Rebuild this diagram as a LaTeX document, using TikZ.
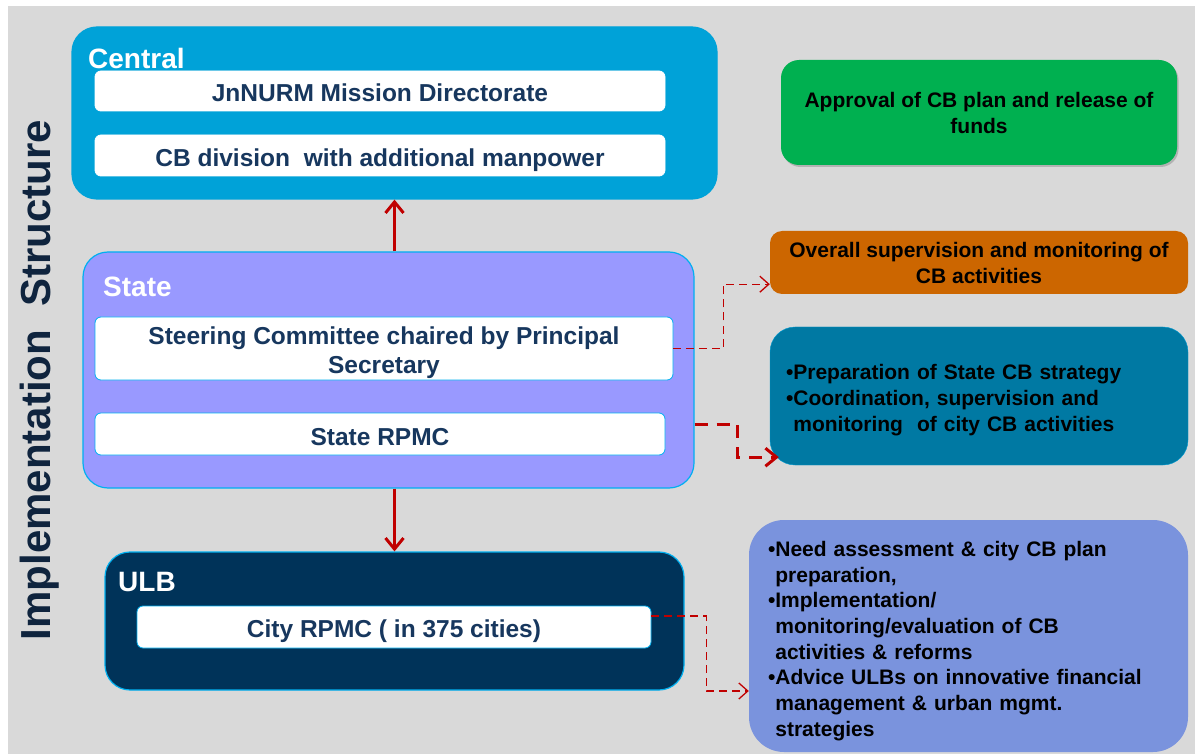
\documentclass[tikz,border=0pt]{standalone}
\usepackage{fontspec}
\setmainfont{Liberation Sans}
\usetikzlibrary{arrows.meta,shadows}

\definecolor{bggray}{RGB}{217,217,217}
\definecolor{centralblue}{RGB}{0,162,216}
\definecolor{statelilac}{RGB}{153,153,255}
\definecolor{ulbnavy}{RGB}{0,51,89}
\definecolor{edgeblue}{RGB}{0,176,240}
\definecolor{navytext}{RGB}{23,55,94}
\definecolor{titlenavy}{RGB}{15,36,62}
\definecolor{darkred}{RGB}{192,0,0}
\definecolor{taskgreen}{RGB}{0,176,80}
\definecolor{taskorange}{RGB}{204,102,0}
\definecolor{taskteal}{RGB}{0,121,163}
\definecolor{taskblue}{RGB}{122,147,221}

\newcommand{\bul}{\textbullet}
\newcommand{\nobul}{\hphantom{\textbullet}}
\newcommand{\lowerstrut}[1]{\rule{0pt}{#1}}

\tikzset{levelbox/.style={
			  rectangle,
			  rounded corners = 25pt,
			  inner sep       = 0pt,
			  line width      = 1.2pt,
			  draw            = edgeblue
			}}
\tikzset{levellabel/.style={
			  anchor          = west,
			  inner sep       = 0pt,
			  text            = white,
			  font            = \fontsize{28}{32}\selectfont\bfseries
			}}
\tikzset{unitbox/.style={
			  rectangle,
			  rounded corners = 6pt,
			  inner sep       = 0pt,
			  line width      = 0.8pt,
			  draw            = edgeblue,
			  fill            = white,
			  text            = navytext,
			  align           = center,
			  font            = \fontsize{24.5}{29}\selectfont\bfseries
			}}
\tikzset{taskbox/.style={
			  rectangle,
			  inner sep       = 0pt,
			  text            = black,
			  font            = \fontsize{21}{26}\selectfont\bfseries
			}}
\tikzset{link/.style={
			  draw            = darkred,
			  line width      = 1.3pt,
			  dash pattern    = on 8pt off 5pt
			}}
\tikzset{bigtip/.style={
			  -{Straight Barb[length=11pt,width=18pt,line width=3pt]}
			}}

\begin{document}
\begin{tikzpicture}[x=1pt, y=-1pt, >={Straight Barb[length=9pt,width=16pt,line width=1.3pt]}]

    \useasboundingbox (0,0) rectangle (1195,754);
    \fill [bggray] (8,6) rectangle (1195,754);

    \node (title) [rotate=90, anchor=base, inner sep=0pt, text=titlenavy,
                   font=\fontsize{42}{48}\selectfont\bfseries] at (50,380) {Implementation~~Structure};

    % levels
    \node (central) [levelbox, fill=centralblue, draw=centralblue, minimum width=645pt, minimum height=172pt] at (394.5,113) {};
    \node (state)   [levelbox, fill=statelilac, minimum width=611pt, minimum height=236pt] at (388.5,370) {};
    \node (ulb)     [levelbox, fill=ulbnavy, minimum width=579pt, minimum height=138pt] at (394.5,621) {};

    \node (central_lbl) [levellabel] at (88,58)  {Central};
    \node (state_lbl)   [levellabel] at (103,287) {State};
    \node (ulb_lbl)     [levellabel] at (118,582) {ULB};

    \node (jnnurm) [unitbox, draw=white, text height=22pt, text depth=0pt,
                    minimum width=570pt, minimum height=40pt] at (380,91)    {JnNURM Mission Directorate};
    \node (cbdiv)  [unitbox, draw=white, text height=22pt, text depth=0pt,
                    minimum width=570pt, minimum height=41pt] at (380,155.5) {CB division\ \ with additional manpower};
    \node (steer)  [unitbox, minimum width=578pt, minimum height=63pt] at (384,348.5)
                   {\lowerstrut{26pt}Steering Committee chaired by Principal\\Secretary};
    \node (srpmc)  [unitbox, text height=23pt, text depth=0pt,
                    minimum width=570pt, minimum height=42pt] at (380,434)   {State RPMC};
    \node (crpmc)  [unitbox, text height=20pt, text depth=0pt,
                    minimum width=514pt, minimum height=42pt] at (394,627)   {City RPMC ( in 375 cities)};

    % tasks
    \node (approval) [taskbox, fill=taskgreen, rounded corners=18pt, align=center,
                      drop shadow={shadow xshift=1.5pt, shadow yshift=-2pt, fill=black!45},
                      minimum width=396pt, minimum height=105pt] at (979,112.5)
                      {Approval of CB plan and release of\\funds};
    \node (oversee)  [taskbox, fill=taskorange, rounded corners=12pt, align=center,
                      minimum width=418pt, minimum height=63pt] at (979,262.5)
                      {\lowerstrut{17pt}Overall supervision and monitoring of\\CB activities};
    \node (strategy) [taskbox, fill=taskteal, draw=edgeblue!60!taskteal, rounded corners=25pt, align=left,
                      text width=386pt, inner xsep=16pt,
                      minimum width=418pt, minimum height=138pt] at (979,396)
                      {\lowerstrut{23pt}\bul Preparation of State CB strategy\\
                       \bul Coordination, supervision and\\
                       \nobul monitoring\ \ of city CB activities};
    \node (cityplan) [taskbox, fill=taskblue, rounded corners=35pt, align=left,
                      text width=401pt, inner xsep=19pt,
                      font=\fontsize{21}{25.7}\selectfont\bfseries,
                      minimum width=439pt, minimum height=232pt] at (968.5,636)
                      {\lowerstrut{25pt}\bul Need assessment \& city CB plan\\
                       \nobul preparation,\\
                       \bul Implementation/\\
                       \nobul monitoring/evaluation of CB\\
                       \nobul activities \& reforms\\
                       \bul Advice ULBs on innovative financial\\
                       \nobul management \& urban mgmt.\\
                       \nobul strategies};

    \draw [bigtip, darkred, line width=3.5pt] (central.south |- state.north) -- (central.south);
    \draw [bigtip, darkred, line width=3.5pt] (ulb.north |- state.south) -- (ulb.north);

    \draw [->, link] (steer.east) -- ++(50,0) |- ([yshift=10pt]oversee.south west);
    \draw [bigtip, link, line width=3pt, dash pattern=on 13pt off 9pt]
          ([yshift=-54pt]state.east) -- ++(43,0) |- ([xshift=9pt,yshift=8pt]strategy.south west);
    \draw [->, link] ([yshift=11pt]crpmc.east) -- ++(55,0) |- ([yshift=-55pt]cityplan.west);

\end{tikzpicture}
\end{document}
